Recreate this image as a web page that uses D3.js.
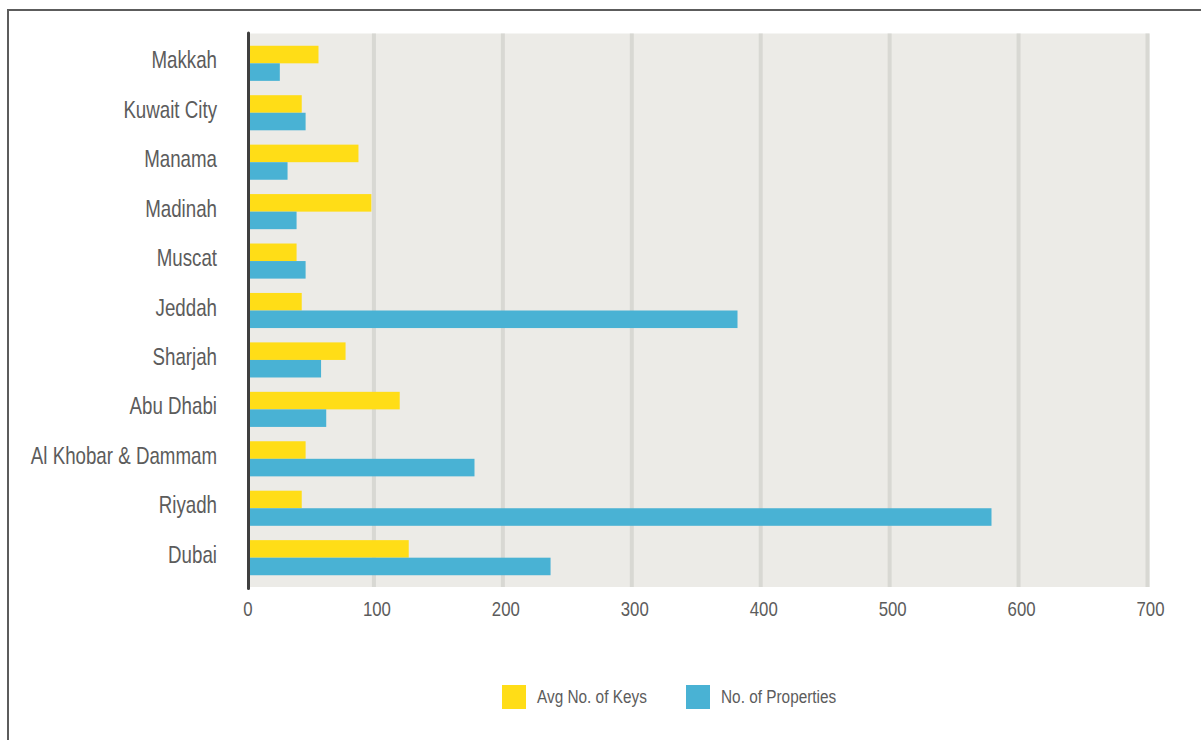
<!DOCTYPE html>
<html>
<head>
<meta charset="utf-8">
<script src="https://cdn.jsdelivr.net/npm/d3@7"></script>
<style>
  html, body { margin: 0; padding: 0; background: #ffffff; }
  svg { display: block; }
  text { font-family: "Liberation Sans", Arial, Helvetica, sans-serif; fill: #5c5c5c; }
</style>
</head>
<body>
<svg id="chart" width="1201" height="740"></svg>
<script>
// Hotel pipeline by city: average keys per property and number of properties
const cities = ["Makkah", "Kuwait City", "Manama", "Madinah", "Muscat", "Jeddah",
                "Sharjah", "Abu Dhabi", "Al Khobar & Dammam", "Riyadh", "Dubai"];
const avgKeys    = [57, 44, 88, 98, 40, 44, 78, 120, 47, 44, 127];
const properties = [27, 47, 33, 40, 47, 382, 59, 63, 178, 579, 237];
const seriesNames = ["Avg No. of Keys", "No. of Properties"];
const seriesColors = ["#FFDD17", "#49B2D4"];
const xTicks = [0, 100, 200, 300, 400, 500, 600, 700];

const rows = cities.map((c, i) => ({ city: c, values: [avgKeys[i], properties[i]] }));

const svg = d3.select("#chart");

// frame around the chart (top and left edges)
svg.append("line").attr("x1", 7).attr("x2", 1201).attr("y1", 10).attr("y2", 10)
  .attr("stroke", "#5c5c5c").attr("stroke-width", 2);
svg.append("line").attr("x1", 8).attr("x2", 8).attr("y1", 9).attr("y2", 740)
  .attr("stroke", "#5c5c5c").attr("stroke-width", 2);

const x = d3.scaleLinear().domain([0, 700]).range([245, 1147.5]);
const axisX = x(0) + 3.5;   // the zero line sits just right of the scale origin
const y = d3.scaleBand().domain(cities).range([38.6, 582.4])
  .paddingInner(0.29).paddingOuter(0.145);
const ySub = d3.scaleBand().domain(seriesNames).range([0, y.bandwidth()]);

// plot background
svg.append("rect")
  .attr("x", axisX).attr("y", 33.5)
  .attr("width", x(700) + 2 - axisX).attr("height", 587 - 33.5)
  .attr("fill", "#ECEBE7");

// vertical gridlines
svg.append("g").selectAll("line").data(xTicks.slice(1)).join("line")
  .attr("x1", d => x(d)).attr("x2", d => x(d))
  .attr("y1", 33.5).attr("y2", 587)
  .attr("stroke", "#D8D8D3").attr("stroke-width", 4);

// bars: start at the zero line, end at the value
const groups = svg.append("g").selectAll("g").data(rows).join("g")
  .attr("transform", d => `translate(0,${y(d.city)})`);
groups.selectAll("rect").data(d => d.values.map((v, k) => ({ v, k }))).join("rect")
  .attr("x", axisX)
  .attr("y", d => ySub(seriesNames[d.k]))
  .attr("width", d => x(d.v) - axisX)
  .attr("height", ySub.bandwidth())
  .attr("fill", d => seriesColors[d.k]);

// zero axis line
svg.append("line")
  .attr("x1", axisX).attr("x2", axisX)
  .attr("y1", 33).attr("y2", 588.5)
  .attr("stroke", "#3f3f3f").attr("stroke-width", 3).attr("stroke-linecap", "round");

// category labels
const yAxis = svg.append("g").selectAll("g").data(cities).join("g")
  .attr("transform", d => `translate(217,${y(d) + y.bandwidth() / 2 + 5})`);
yAxis.append("text")
  .attr("text-anchor", "end")
  .attr("transform", "scale(0.78,1)")
  .style("font-size", "24px")
  .text(d => d);

// value axis tick labels
const xAxis = svg.append("g").selectAll("g").data(xTicks).join("g")
  .attr("transform", d => `translate(${x(d) + 3},616)`);
xAxis.append("text")
  .attr("text-anchor", "middle")
  .attr("transform", "scale(0.84,1)")
  .style("font-size", "20px")
  .text(d => d);

// legend
const legendX = [502, 686];
const legend = svg.append("g").selectAll("g").data(seriesNames).join("g")
  .attr("transform", (d, i) => `translate(${legendX[i]},685)`);
legend.append("rect")
  .attr("width", 24).attr("height", 24)
  .attr("fill", (d, i) => seriesColors[i]);
legend.append("g").attr("transform", "translate(35,17.5)")
  .append("text")
  .attr("transform", "scale(0.83,1)")
  .style("font-size", "18.5px")
  .text(d => d);
</script>
</body>
</html>
